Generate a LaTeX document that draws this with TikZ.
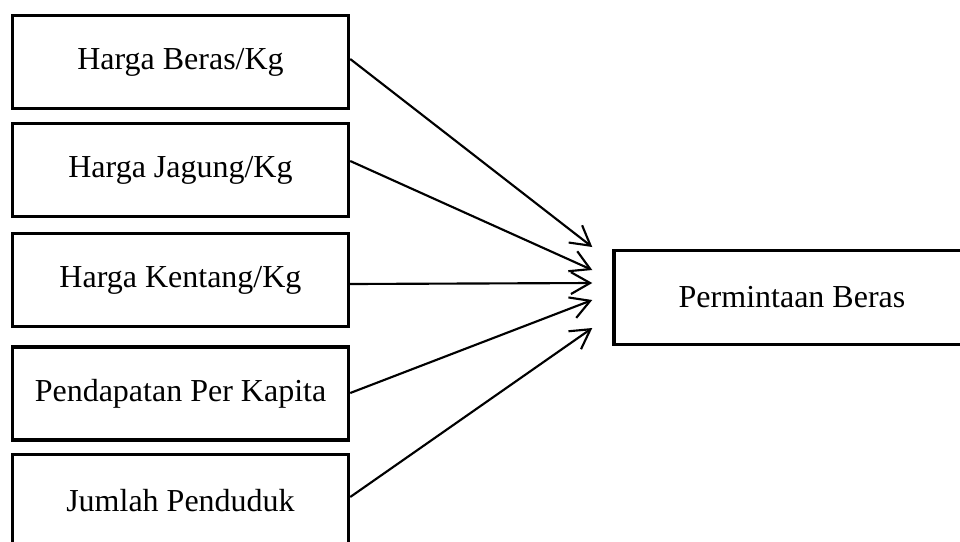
\documentclass[tikz,border=0pt]{standalone}
\usepackage{fontspec}
\setmainfont{Liberation Serif}
\usetikzlibrary{arrows.meta,calc}

\begin{document}
\begin{tikzpicture}[
    x = 0.375pt, y = -0.375pt,
    every node/.style = {font = \fontsize{12}{14}\selectfont},
    factor/.style = {draw, line width = 1.3pt, inner sep = 0pt,
        minimum width = 126pt, minimum height = 34.8pt},
    target/.style = {factor, minimum width = 133.5pt, minimum height = 35.2pt},
    link/.style = {line width = 0.8pt,
        -{Straight Barb[length = 7.2pt, width = 8.2pt, line width = 0.8pt]}}]

\useasboundingbox (0,0) rectangle (960,541);

\path (180.5,62)    node[factor] (beras)    {Harga Beras/Kg}
      (180.5,170)   node[factor] (jagung)   {Harga Jagung/Kg}
      (180.5,280)   node[factor] (kentang)  {Harga Kentang/Kg}
      (180.5,393.5) node[factor] (income)   {Pendapatan Per Kapita}
      (180.5,501)   node[factor] (penduduk) {Jumlah Penduduk}
      (792,297.5)   node[target] (demand)   {Permintaan Beras};

\foreach \src/\dy/\ty in {beras/-3/-50.5, jagung/-9/-27.5, kentang/4/-14.5,
                          income/-0.5/2.5, penduduk/-4/30.5}
  \draw[link] ($(\src.east)+(0,\dy)$) -- ($(demand.west)+(-20,\ty)$);
\end{tikzpicture}
\end{document}
